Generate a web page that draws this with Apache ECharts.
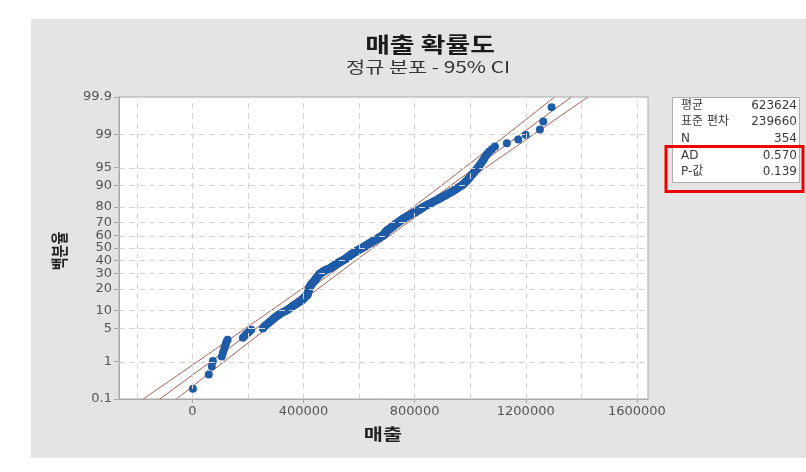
<!DOCTYPE html>
<html>
<head>
<meta charset="utf-8">
<script src="https://cdn.jsdelivr.net/npm/echarts@6/dist/echarts.min.js"></script>
<style>
  html, body { margin: 0; padding: 0; background: #ffffff; }
  #chart { width: 806px; height: 472px; }
</style>
</head>
<body>
<div id="chart"></div>
<script>
// ---- 텍스트 ----
const titleText = '매출 확률도';
const subtitleText = '정규 분포 - 95% CI';
const xAxisName = '매출';
const yAxisName = '백분율';

// ---- 축 눈금 ----
const xTickValues = [0, 400000, 800000, 1200000, 1600000];
const xGridValues = [-200000, 0, 200000, 400000, 600000, 800000, 1000000, 1200000, 1400000, 1600000];
const yTickPercents = [0.1, 1, 5, 10, 20, 30, 40, 50, 60, 70, 80, 90, 95, 99, 99.9];
const yTickLabels = ['0.1', '1', '5', '10', '20', '30', '40', '50', '60', '70', '80', '90', '95', '99', '99.9'];

// ---- 통계량 ----
const statNames = ['평균', '표준 편차', 'N', 'AD', 'P-값'];
const statValues = ['623624', '239660', '354', '0.570', '0.139'];
const meanSales = 623624;
const stdSales = 239660;

// ---- 매출 표본 (천 단위, 오름차순) ----
const salesK = [
  2, 59, 70, 74,
  106, 110, 114, 117, 120, 123, 127,
  182, 188, 194, 200, 206, 212,
  254, 258, 262, 266, 272,
  277, 281, 286,
  290, 294, 298, 303, 308,
  312, 317, 322, 327, 333, 339,
  343, 347, 351, 355,
  359, 362, 366, 370, 373, 377, 381, 384, 388, 392,
  395, 397, 399, 401, 403, 405, 407, 409, 411, 414,
  415, 415, 416, 416, 417, 417, 418, 418, 418, 419, 419,
  420, 421, 421, 422, 423, 424, 425, 426, 427,
  428, 429, 431, 432, 434, 435, 437, 438, 440, 441,
  442, 443, 444, 445, 446, 447, 448, 449, 450, 452,
  453, 454, 455, 456, 458, 459,
  461, 463, 465, 467, 469, 471, 473, 476, 478, 481, 484, 487, 490, 495,
  497, 499, 501, 503, 505, 507, 509, 511, 513, 515, 517, 519, 521, 523, 525, 527, 529, 532, 534, 537, 539, 542,
  544, 546, 548, 550, 552, 554, 556, 558, 559, 561, 563, 564, 566, 567, 569, 571, 572, 574,
  576, 578, 580, 582, 584, 586, 588, 590, 592, 594, 596, 598, 600, 602, 605, 607, 610,
  612, 614, 616, 618, 620, 622, 624, 626, 628, 630, 632, 634, 636, 638, 640, 642, 644, 646, 648, 650, 652, 655, 657,
  659, 661, 663, 666, 668, 670, 672, 674, 676, 678, 681, 683, 686,
  688, 689, 690, 691, 692, 693, 694, 695, 696, 697, 698, 699, 700, 701, 703, 705, 707,
  709, 711, 713, 714, 716, 718, 719, 721, 723, 724, 726, 728, 730, 732, 734, 736, 738, 740,
  742, 744, 746, 748, 750, 752, 754, 756, 758, 760, 763, 765,
  768, 771, 774, 776, 779, 782, 785, 788, 791, 793, 796, 799, 802, 805, 808, 811, 814, 816, 819, 822, 825, 828, 830, 833,
  836, 840, 843, 847, 850, 854, 857, 861, 865, 868, 872, 876, 880, 884, 887, 891,
  895, 899, 903, 907, 911, 915, 919, 923, 928, 932, 936, 940, 944, 948, 952, 956, 960, 965, 970,
  973, 976, 979, 982, 985, 988, 991, 994, 997, 1000, 1003,
  1006, 1010, 1013, 1017, 1020, 1024, 1028,
  1031, 1035, 1039,
  1043, 1047, 1051, 1055, 1060,
  1068, 1078, 1089,
  1132, 1173, 1200, 1251, 1263, 1293
];

// ---- 95% 신뢰구간 (천 단위) ----
const ciPercents = [0.1, 1, 5, 10, 20, 30, 50, 70, 80, 90, 95, 99, 99.9];
const ciLowerK = [-177, 18, 191, 283, 393, 471, 599, 723, 796, 897, 980, 1133, 1304];
const ciUpperK = [-57, 114, 268, 350, 451, 525, 649, 776, 855, 965, 1056, 1229, 1424];

// 표준정규 역누적분포 (Acklam 근사) — 확률 축 변환용
function probit(p) {
  const a = [-3.969683028665376e+01, 2.209460984245205e+02, -2.759285104469687e+02, 1.383577518672690e+02, -3.066479806614716e+01, 2.506628277459239e+00];
  const b = [-5.447609879822406e+01, 1.615858368580409e+02, -1.556989798598866e+02, 6.680131188771972e+01, -1.328068155288572e+01];
  const c = [-7.784894002430293e-03, -3.223964580411365e-01, -2.400758277161838e+00, -2.549732539343734e+00, 4.374664141464968e+00, 2.938163982698783e+00];
  const d = [7.784695709041462e-03, 3.224671290700398e-01, 2.445134137142996e+00, 3.754408661907416e+00];
  const pLow = 0.02425, pHigh = 1 - pLow;
  let q, r;
  if (p < pLow) {
    q = Math.sqrt(-2 * Math.log(p));
    return (((((c[0]*q+c[1])*q+c[2])*q+c[3])*q+c[4])*q+c[5]) / ((((d[0]*q+d[1])*q+d[2])*q+d[3])*q+1);
  }
  if (p <= pHigh) {
    q = p - 0.5; r = q * q;
    return (((((a[0]*r+a[1])*r+a[2])*r+a[3])*r+a[4])*r+a[5])*q / (((((b[0]*r+b[1])*r+b[2])*r+b[3])*r+b[4])*r+1);
  }
  q = Math.sqrt(-2 * Math.log(1 - p));
  return -(((((c[0]*q+c[1])*q+c[2])*q+c[3])*q+c[4])*q+c[5]) / ((((d[0]*q+d[1])*q+d[2])*q+d[3])*q+1);
}

const sales = salesK.map(v => v * 1000);
const n = sales.length;
// 중앙 순위 (i - 0.3) / (n + 0.4) 로 타점 위치 계산
const points = sales.map((v, i) => [v, probit((i + 1 - 0.3) / (n + 0.4))]);

const yTickZ = yTickPercents.map(p => probit(p / 100));
const zMin = yTickZ[0];
const zMax = yTickZ[yTickZ.length - 1];

const fitLine = [
  [meanSales + zMin * stdSales, zMin],
  [meanSales + zMax * stdSales, zMax]
];
const ciLower = ciPercents.map((p, i) => [ciLowerK[i] * 1000, probit(p / 100)]);
const ciUpper = ciPercents.map((p, i) => [ciUpperK[i] * 1000, probit(p / 100)]);

function yLabelFor(z) {
  let best = 0, dist = Infinity;
  yTickZ.forEach((t, i) => { const d = Math.abs(t - z); if (d < dist) { dist = d; best = i; } });
  return yTickLabels[best];
}

const fontFamily = '"DejaVu Sans", "Noto Sans CJK KR", sans-serif';
const cjkFamily = '"Noto Sans CJK KR", "DejaVu Sans", sans-serif';
const labelColor = '#555555';
const fitColor = '#a65c52';
const gridLineStyle = { color: '#d6d6d6', type: [6, 4], width: 1 };

const chart = echarts.init(document.getElementById('chart'), null, { renderer: 'canvas' });

const statLines = [];
statNames.forEach((name, i) => {
  const y = 106 + i * 16.2 + (i >= 3 ? 1 : 0);
  statLines.push({ type: 'text', x: 681, y: y, z: 20, style: { text: name, font: '12px ' + fontFamily, fill: '#3a3a3a', textAlign: 'left', textVerticalAlign: 'middle' } });
  statLines.push({ type: 'text', x: 797, y: y, z: 20, style: { text: statValues[i], font: '12px ' + fontFamily, fill: '#3a3a3a', textAlign: 'right', textVerticalAlign: 'middle' } });
});

chart.setOption({
  backgroundColor: '#ffffff',
  animation: false,
  graphic: [
    { type: 'rect', z: -10, silent: true, shape: { x: 31, y: 19, width: 775, height: 439 }, style: { fill: '#e4e4e4' } },
    { type: 'text', x: 430, y: 44, scaleX: 1.28, z: 20, style: { text: titleText, font: 'bold 21px ' + cjkFamily, fill: '#1a1a1a', textAlign: 'center', textVerticalAlign: 'middle' } },
    { type: 'text', x: 428, y: 67, scaleX: 1.3, z: 20, style: { text: subtitleText, font: '16px ' + cjkFamily, fill: '#333333', textAlign: 'center', textVerticalAlign: 'middle' } },
    { type: 'text', x: 383, y: 434, scaleX: 1.3, z: 20, style: { text: xAxisName, font: 'bold 16px ' + cjkFamily, fill: '#222222', textAlign: 'center', textVerticalAlign: 'middle' } },
    { type: 'text', x: 60, y: 251, rotation: Math.PI / 2, scaleY: 1.2, z: 20, style: { text: yAxisName, font: 'bold 14px ' + cjkFamily, fill: '#222222', textAlign: 'center', textVerticalAlign: 'middle' } },
    { type: 'rect', z: 10, shape: { x: 672.5, y: 97.5, width: 127, height: 85 }, style: { fill: '#ffffff', stroke: '#b0b0b0', lineWidth: 1 } },
    { type: 'line', z: 11, shape: { x1: 673, y1: 147.5, x2: 799, y2: 147.5 }, style: { stroke: '#c8c8c8', lineWidth: 1 } },
    ...statLines,
    { type: 'rect', z: 30, shape: { x: 666, y: 146.5, width: 137, height: 45 }, style: { fill: 'none', stroke: '#ee0000', lineWidth: 3 } }
  ],
  grid: {
    left: 119, top: 97, right: 158, bottom: 73,
    show: true, backgroundColor: '#ffffff', borderColor: '#a8a8a8', borderWidth: 1
  },
  xAxis: {
    type: 'value',
    min: -264000, max: 1640000,
    axisLine: { show: true, onZero: false, lineStyle: { color: '#a8a8a8' } },
    axisTick: { show: true, length: 4, customValues: xTickValues, lineStyle: { color: '#a8a8a8' } },
    axisLabel: { customValues: xTickValues, formatter: v => String(Math.round(v)), color: labelColor, fontFamily: fontFamily, fontSize: 13, margin: 6 },
    splitLine: { show: false }
  },
  yAxis: {
    type: 'value',
    min: zMin - 1e-9, max: zMax + 1e-9,
    axisLine: { show: true, onZero: false, lineStyle: { color: '#a8a8a8' } },
    axisTick: { show: true, length: 5, customValues: yTickZ, lineStyle: { color: '#a8a8a8' } },
    axisLabel: { customValues: yTickZ, showMinLabel: true, showMaxLabel: true, hideOverlap: false, formatter: v => yLabelFor(v), color: labelColor, fontFamily: fontFamily, fontSize: 13, margin: 7 },
    splitLine: { show: false }
  },
  series: [
    {
      name: 'grid', type: 'line', data: [], z: 1, silent: true,
      markLine: {
        silent: true, symbol: ['none', 'none'], label: { show: false },
        lineStyle: gridLineStyle, animation: false,
        data: [
          ...xGridValues.map(v => ({ xAxis: v })),
          ...yTickZ.slice(1, -1).map(z => ({ yAxis: z }))
        ]
      }
    },
    { name: 'CI 하한', type: 'line', data: ciLower, symbol: 'none', smooth: true, z: 2, lineStyle: { color: fitColor, width: 1 } },
    { name: '적합선', type: 'line', data: fitLine, symbol: 'none', z: 2, lineStyle: { color: fitColor, width: 1 } },
    { name: 'CI 상한', type: 'line', data: ciUpper, symbol: 'none', smooth: true, z: 2, lineStyle: { color: fitColor, width: 1 } },
    {
      name: '매출', type: 'scatter', data: points, symbol: 'circle', symbolSize: 8, z: 3,
      itemStyle: { color: '#1f5ca8', opacity: 1 }
    }
  ]
});
</script>
</body>
</html>
